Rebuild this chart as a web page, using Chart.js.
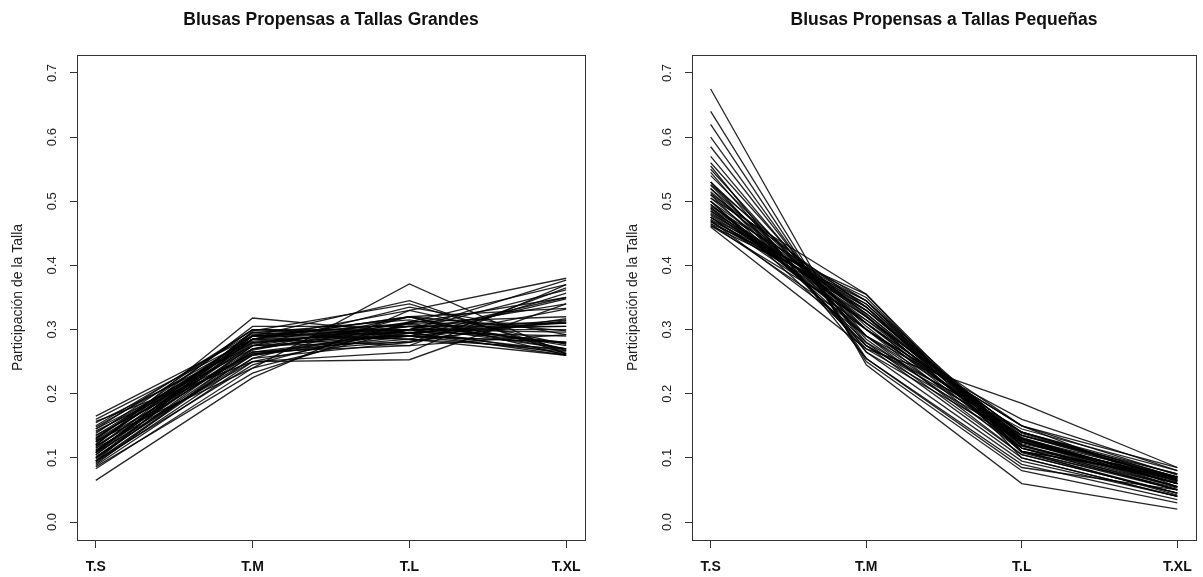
<!DOCTYPE html>
<html>
<head>
<meta charset="utf-8">
<script src="https://cdn.jsdelivr.net/npm/chart.js@4.4.0/dist/chart.umd.min.js"></script>
<style>
  body { margin: 0; background: #fff; }
  #wrap { position: relative; width: 1203px; height: 577px; }
  canvas { position: absolute; top: 0; }
</style>
</head>
<body>
<div id="wrap">
  <canvas id="chartGrandes" width="600" height="577" style="left:0px"></canvas>
  <canvas id="chartPequenas" width="603" height="577" style="left:600px"></canvas>
</div>
<script>
var tallas = ['T.S', 'T.M', 'T.L', 'T.XL'];
var yTicks = [0.0, 0.1, 0.2, 0.3, 0.4, 0.5, 0.6, 0.7];

// Blusas propensas a tallas grandes (una entrada por blusa)
var grandesTS = [0.065, 0.083, 0.165, 0.120, 0.127, 0.157, 0.095, 0.100, 0.110, 0.105,
                 0.115, 0.130, 0.140, 0.150, 0.160, 0.145, 0.135, 0.125, 0.118, 0.112,
                 0.108, 0.098, 0.092, 0.088, 0.095, 0.102, 0.110, 0.095, 0.120, 0.130,
                 0.138, 0.148, 0.128, 0.118, 0.108, 0.115, 0.090, 0.105, 0.125, 0.135,
                 0.145, 0.155, 0.112, 0.100, 0.094, 0.122, 0.132, 0.086, 0.108, 0.142];
var grandesTM = [0.225, 0.240, 0.290, 0.318, 0.240, 0.250, 0.265, 0.285, 0.290, 0.275,
                 0.295, 0.300, 0.280, 0.295, 0.285, 0.270, 0.260, 0.265, 0.280, 0.270,
                 0.285, 0.275, 0.255, 0.250, 0.245, 0.260, 0.290, 0.298, 0.305, 0.290,
                 0.300, 0.285, 0.275, 0.265, 0.255, 0.250, 0.270, 0.290, 0.285, 0.285,
                 0.300, 0.275, 0.278, 0.268, 0.262, 0.292, 0.282, 0.232, 0.296, 0.262];
var grandesTL = [0.330, 0.300, 0.285, 0.295, 0.371, 0.253, 0.275, 0.305, 0.300, 0.310,
                 0.315, 0.290, 0.300, 0.285, 0.290, 0.305, 0.300, 0.295, 0.290, 0.320,
                 0.330, 0.335, 0.320, 0.300, 0.310, 0.290, 0.345, 0.340, 0.305, 0.310,
                 0.300, 0.275, 0.280, 0.285, 0.280, 0.265, 0.300, 0.295, 0.320, 0.320,
                 0.295, 0.290, 0.305, 0.312, 0.294, 0.308, 0.296, 0.312, 0.300, 0.282];
var grandesTXL = [0.380, 0.377, 0.260, 0.267, 0.262, 0.340, 0.365, 0.310, 0.300, 0.310,
                  0.275, 0.280, 0.280, 0.270, 0.265, 0.280, 0.305, 0.315, 0.312, 0.298,
                  0.277, 0.292, 0.333, 0.362, 0.350, 0.348, 0.262, 0.267, 0.270, 0.270,
                  0.262, 0.292, 0.317, 0.332, 0.357, 0.370, 0.340, 0.310, 0.270, 0.260,
                  0.260, 0.280, 0.305, 0.320, 0.350, 0.278, 0.290, 0.370, 0.296, 0.314];

// Blusas propensas a tallas pequeñas
var pequenasTS = [0.675, 0.640, 0.620, 0.600, 0.585, 0.570, 0.560, 0.550, 0.540, 0.530,
                  0.525, 0.520, 0.515, 0.510, 0.505, 0.500, 0.495, 0.490, 0.488, 0.485,
                  0.482, 0.480, 0.478, 0.475, 0.472, 0.470, 0.468, 0.465, 0.462, 0.460,
                  0.465, 0.470, 0.475, 0.490, 0.500, 0.505, 0.495, 0.510, 0.520, 0.530,
                  0.545, 0.555, 0.500, 0.485, 0.475, 0.468, 0.492, 0.512, 0.526, 0.462];
var pequenasTM = [0.245, 0.250, 0.255, 0.265, 0.275, 0.280, 0.290, 0.285, 0.300, 0.305,
                  0.290, 0.310, 0.300, 0.320, 0.310, 0.325, 0.315, 0.330, 0.320, 0.335,
                  0.325, 0.340, 0.330, 0.345, 0.335, 0.350, 0.340, 0.355, 0.345, 0.270,
                  0.300, 0.290, 0.310, 0.300, 0.290, 0.355, 0.300, 0.280, 0.275, 0.270,
                  0.265, 0.255, 0.275, 0.310, 0.320, 0.330, 0.345, 0.335, 0.322, 0.315];
var pequenasTL = [0.060, 0.080, 0.090, 0.095, 0.100, 0.105, 0.105, 0.115, 0.110, 0.115,
                  0.125, 0.120, 0.130, 0.115, 0.125, 0.120, 0.130, 0.125, 0.132, 0.120,
                  0.130, 0.118, 0.127, 0.115, 0.128, 0.110, 0.122, 0.110, 0.125, 0.185,
                  0.150, 0.160, 0.140, 0.135, 0.140, 0.100, 0.150, 0.140, 0.135, 0.130,
                  0.125, 0.085, 0.145, 0.140, 0.138, 0.135, 0.110, 0.108, 0.110, 0.150];
var pequenasTXL = [0.020, 0.030, 0.035, 0.040, 0.040, 0.045, 0.045, 0.050, 0.050, 0.050,
                   0.060, 0.050, 0.055, 0.055, 0.060, 0.055, 0.060, 0.055, 0.060, 0.060,
                   0.063, 0.062, 0.065, 0.065, 0.065, 0.070, 0.070, 0.070, 0.068, 0.085,
                   0.085, 0.080, 0.075, 0.075, 0.070, 0.040, 0.055, 0.070, 0.070, 0.070,
                   0.065, 0.050, 0.080, 0.065, 0.067, 0.067, 0.053, 0.045, 0.042, 0.073];

var fontFamily = '"Liberation Sans", Arial, Helvetica, sans-serif';

function buildDatasets(ts, tm, tl, txl) {
  return ts.map(function(v, i) {
    return {
      data: [
        { x: 1, y: ts[i] },
        { x: 2, y: tm[i] },
        { x: 3, y: tl[i] },
        { x: 4, y: txl[i] }
      ],
      borderColor: 'rgba(0,0,0,0.85)',
      borderWidth: 1.3,
      pointRadius: 0,
      fill: false,
      tension: 0
    };
  });
}

// R-style box + rotated y tick labels
var rBox = {
  id: 'rBox',
  afterDraw: function(chart) {
    var ctx = chart.ctx;
    var a = chart.chartArea;
    ctx.save();
    ctx.strokeStyle = '#333';
    ctx.lineWidth = 1;
    ctx.strokeRect(Math.round(a.left) + 0.5, Math.round(a.top) + 0.5,
                   Math.round(a.right - a.left), Math.round(a.bottom - a.top));
    var yScale = chart.scales.y;
    ctx.fillStyle = '#222';
    ctx.font = '13px ' + fontFamily;
    ctx.textAlign = 'center';
    ctx.textBaseline = 'middle';
    yScale.ticks.forEach(function(t) {
      var py = yScale.getPixelForValue(t.value);
      ctx.save();
      ctx.translate(a.left - 25, py);
      ctx.rotate(-Math.PI / 2);
      ctx.fillText(t.value.toFixed(1), 0, 0);
      ctx.restore();
    });
    ctx.restore();
  }
};

function makeChart(id, titulo, datasets, padLeft, padRight) {
  var ctx = document.getElementById(id).getContext('2d');
  return new Chart(ctx, {
    type: 'line',
    data: { datasets: datasets },
    plugins: [rBox],
    options: {
      responsive: false,
      animation: false,
      events: [],
      layout: { padding: { left: padLeft, right: padRight, top: 0, bottom: 0 } },
      plugins: {
        legend: { display: false },
        tooltip: { enabled: false },
        title: {
          display: true,
          text: titulo,
          fullSize: false,
          color: '#111',
          font: { family: fontFamily, size: 17.5, weight: 'bold' },
          padding: { top: 10, bottom: 24 }
        }
      },
      scales: {
        x: {
          type: 'linear',
          min: 0.88,
          max: 4.12,
          afterBuildTicks: function(scale) {
            scale.ticks = tallas.map(function(t, i) { return { value: i + 1 }; });
          },
          afterFit: function(scale) { scale.height = 37; },
          ticks: {
            autoSkip: false,
            maxRotation: 0,
            padding: 11,
            color: '#111',
            font: { family: fontFamily, size: 14, weight: 'bold' },
            callback: function(v) { return tallas[v - 1]; }
          },
          grid: { drawOnChartArea: false, drawTicks: true, tickLength: 8, color: '#333' },
          border: { display: false }
        },
        y: {
          min: -0.028,
          max: 0.728,
          afterBuildTicks: function(scale) {
            scale.ticks = yTicks.map(function(v) { return { value: v }; });
          },
          afterFit: function(scale) { scale.width = 77; },
          ticks: { display: false },
          grid: { drawOnChartArea: false, drawTicks: true, tickLength: 7, color: '#333' },
          border: { display: false },
          title: {
            display: true,
            text: 'Participación de la Talla',
            color: '#222',
            font: { family: fontFamily, size: 14 },
            padding: { top: 10, bottom: 0 }
          }
        }
      }
    }
  });
}

makeChart('chartGrandes', 'Blusas Propensas a Tallas Grandes',
  buildDatasets(grandesTS, grandesTM, grandesTL, grandesTXL), 0, 15);
makeChart('chartPequenas', 'Blusas Propensas a Tallas Pequeñas',
  buildDatasets(pequenasTS, pequenasTM, pequenasTL, pequenasTXL), 15, 3);
</script>
</body>
</html>
